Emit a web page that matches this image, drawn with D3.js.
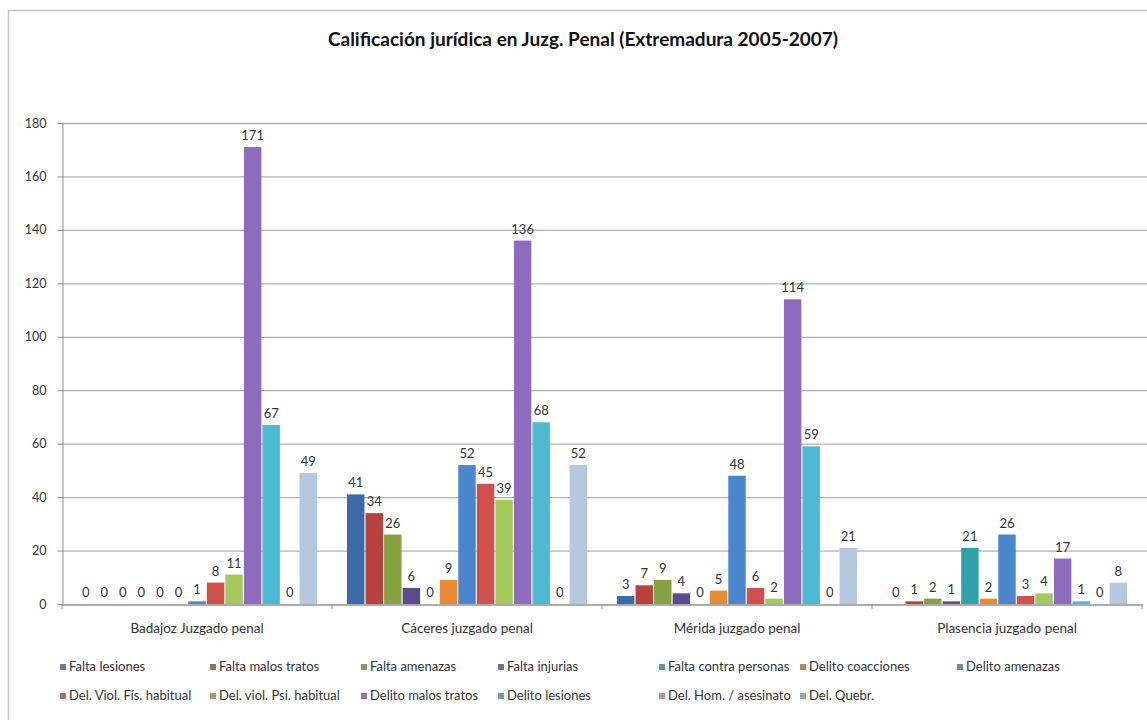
<!DOCTYPE html>
<html><head><meta charset="utf-8">
<script src="https://cdn.jsdelivr.net/npm/d3@7"></script>
<style>body{margin:0;background:#fff}svg{display:block}</style>
</head><body>
<svg id="c" width="1147" height="720"></svg>
<script>
const title = "Calificación jurídica en Juzg. Penal (Extremadura 2005-2007)";
const categories = ["Badajoz Juzgado penal","Cáceres juzgado penal","Mérida juzgado penal","Plasencia juzgado penal"];
const seriesNames = ["Falta lesiones","Falta malos tratos","Falta amenazas","Falta injurias","Falta contra personas","Delito coacciones","Delito amenazas","Del. Viol. Fís. habitual","Del. viol. Psi. habitual","Delito malos tratos","Delito lesiones","Del. Hom. / asesinato","Del. Quebr."];
const badajoz   = [0,0,0,0,0,0,1,8,11,171,67,0,49];
const caceres   = [41,34,26,6,0,9,52,45,39,136,68,0,52];
const merida    = [3,7,9,4,0,5,48,6,2,114,59,0,21];
const plasencia = [0,1,2,1,21,2,26,3,4,17,1,0,8];
const yTicks = [0,20,40,60,80,100,120,140,160,180];
const colors = ["#3C6AA5","#B6413E","#85A243","#5E4A8A","#31A0A8","#EA8A35","#4A86CB","#D1504D","#A5C85B","#8F6BBE","#4DB9D2","#F3A5A0","#B6C7E0"];

const values = [badajoz, caceres, merida, plasencia];
const svg = d3.select("#c");
const font = "Lato, 'Open Sans', sans-serif";

// border
svg.append("rect").attr("x",8.5).attr("y",10.5).attr("width",1160).attr("height",730)
  .attr("fill","none").attr("stroke","#c4c4c4").attr("stroke-width",1.5);

svg.append("text").attr("x",583).attr("y",46).attr("text-anchor","middle")
  .attr("font-family",font).attr("font-weight","bold").attr("font-size",19).attr("fill","#111")
  .text(title);

const L = 62, R = 1142, T = 123, B = 604;
const y = d3.scaleLinear().domain([0,180]).range([B,T]);
const x0 = d3.scaleBand().domain(categories).range([L,R]);
const x1 = d3.scaleBand().domain(seriesNames).range([15,255]).paddingInner(0.06);
const color = d3.scaleOrdinal().domain(seriesNames).range(colors);

// gridlines
svg.append("g").selectAll("line").data(yTicks.filter(d=>d>0)).join("line")
  .attr("x1",L).attr("x2",R+5).attr("y1",d=>y(d)+0.5).attr("y2",d=>y(d)+0.5)
  .attr("stroke","#b0b0b0").attr("stroke-width",1.3);

// y axis
const yAxis = svg.append("g").attr("transform",`translate(${L+0.5},0)`)
  .call(d3.axisLeft(y).tickValues(yTicks).tickSize(5).tickPadding(11));
yAxis.select(".domain").attr("stroke","#909090");
yAxis.selectAll(".tick line").attr("stroke","#909090");
yAxis.selectAll("text").attr("font-family",font).attr("font-size",12.5).attr("fill","#333");

// x axis
const xAxis = svg.append("g").attr("transform",`translate(0,${B+0.5})`)
  .call(d3.axisBottom(x0).tickSize(0).tickPadding(19));
xAxis.select(".domain").attr("stroke","#909090").attr("stroke-width",1.3);
xAxis.selectAll("text").attr("font-family",font).attr("font-size",13.5).attr("fill","#333");
svg.append("g").selectAll("line").data(categories.concat(["end"])).join("line")
  .attr("x1",(d,i)=>i<categories.length?x0(d):R).attr("x2",(d,i)=>i<categories.length?x0(d):R)
  .attr("y1",B).attr("y2",B+5).attr("stroke","#909090");

// bars
const groups = svg.append("g").selectAll("g").data(categories).join("g")
  .attr("transform",d=>`translate(${x0(d)},0)`);
groups.each(function(cat,ci){
  const g = d3.select(this);
  const data = seriesNames.map((s,si)=>({s, v: values[ci][si]}));
  g.selectAll("rect").data(data).join("rect")
    .attr("x",d=>x1(d.s)).attr("width",x1.bandwidth())
    .attr("y",d=>y(d.v)).attr("height",d=>B-y(d.v))
    .attr("fill",d=>color(d.s));
  g.selectAll("text").data(data).join("text")
    .attr("x",d=>x1(d.s)+x1.bandwidth()/2).attr("y",d=>y(d.v)-7)
    .attr("text-anchor","middle").attr("font-family",font).attr("font-size",13).attr("fill","#333")
    .text(d=>d.v);
});

// legend
const colX = [60,210,361,498,659,800,957];
const legend = svg.append("g");
seriesNames.forEach((s,i)=>{
  const row = i<7?0:1, col = i<7?i:i-7;
  const lx = colX[col], ly = row===0?671:700;
  legend.append("rect").attr("x",lx).attr("y",ly-7).attr("width",6).attr("height",6)
    .attr("fill",d3.interpolateRgb(color(s),"#8a8a8a")(0.6));
  legend.append("text").attr("x",lx+9).attr("y",ly).attr("font-family",font)
    .attr("font-size",13).attr("fill","#333").text(s);
});
</script>
</body></html>
